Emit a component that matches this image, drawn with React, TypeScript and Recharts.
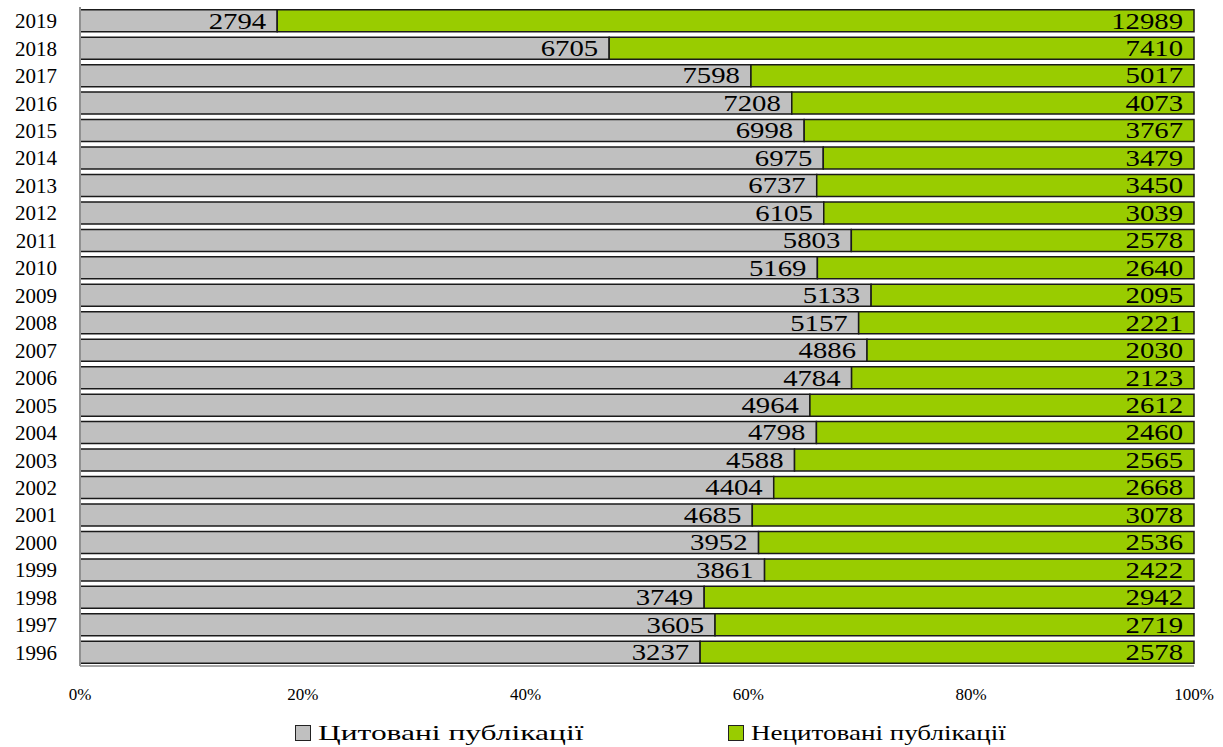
import { BarChart, Bar, XAxis, YAxis, LabelList } from 'recharts'

const years = ['2019', '2018', '2017', '2016', '2015', '2014', '2013', '2012', '2011', '2010', '2009', '2008',
  '2007', '2006', '2005', '2004', '2003', '2002', '2001', '2000', '1999', '1998', '1997', '1996']
const cited = [2794, 6705, 7598, 7208, 6998, 6975, 6737, 6105, 5803, 5169, 5133, 5157,
  4886, 4784, 4964, 4798, 4588, 4404, 4685, 3952, 3861, 3749, 3605, 3237]
const uncited = [12989, 7410, 5017, 4073, 3767, 3479, 3450, 3039, 2578, 2640, 2095, 2221,
  2030, 2123, 2612, 2460, 2565, 2668, 3078, 2536, 2422, 2942, 2719, 2578]
const xTicks = [0, 0.2, 0.4, 0.6, 0.8, 1]

const C_CITED = '#c0c0c0'
const C_UNCITED = '#99cc00'
const FONT = 'Liberation Serif, Tinos, DejaVu Serif, serif'

const data = years.map((year, i) => ({ year, cited: cited[i], uncited: uncited[i] }))

// labels in the source are drawn wider than the font, so stretch them a bit
const makeLabel = (values: number[]) => (props: any) => {
  const { x, y, width, height, index } = props
  const v = values[index]
  if (v == null) return null
  return (
    <text transform={`translate(${x + width - 11},${y + height / 2 + 7.8}) scale(1.25,1)`}
      textAnchor="end" fontSize={23} style={{ fontFamily: FONT }} fill="#000">{v}</text>
  )
}

const LegendItem = ({ color, text, stretch }: { color: string; text: string; stretch: number }) => (
  <span style={{ display: 'flex', alignItems: 'center' }}>
    <span style={{ display: 'inline-block', width: 14, height: 14, background: color, border: '1.5px solid #222', marginRight: 7 }} />
    <span style={{ display: 'inline-block', transform: `scaleX(${stretch})`, transformOrigin: 'left center', fontSize: 22, lineHeight: '22px', fontFamily: FONT, whiteSpace: 'nowrap' }}>{text}</span>
  </span>
)

export default function App() {
  return (
    <div style={{ position: 'absolute', left: 0, top: 0, width: 1223, height: 747, background: '#fff', fontFamily: FONT }}>
      <BarChart width={1223} height={747} data={data} layout="vertical" stackOffset="expand"
        barCategoryGap="10%" margin={{ top: 7, right: 29, bottom: 51, left: 0 }} style={{ fontFamily: FONT }}>
        <XAxis type="number" domain={[0, 1]} ticks={xTicks} tickFormatter={(v: number) => `${Math.round(v * 100)}%`}
          axisLine={{ stroke: '#a6a6a6', strokeWidth: 2 }} tickLine={false} tickMargin={16}
          tick={{ fontSize: 17, fill: '#000', style: { fontFamily: FONT } }} />
        <YAxis type="category" dataKey="year" width={80} axisLine={{ stroke: '#909090', strokeWidth: 2 }}
          tickLine={false} tickMargin={17} tick={{ fontSize: 21, fill: '#000', style: { fontFamily: FONT } }} interval={0} />
        <Bar dataKey="cited" name="Цитовані публікації" stackId="a" fill={C_CITED} stroke="#1a1a1a" strokeWidth={1.5} isAnimationActive={false}>
          <LabelList dataKey="cited" content={makeLabel(cited)} />
        </Bar>
        <Bar dataKey="uncited" name="Нецитовані публікації" stackId="a" fill={C_UNCITED} stroke="#1a1a1a" strokeWidth={1.5} isAnimationActive={false}>
          <LabelList dataKey="uncited" content={makeLabel(uncited)} />
        </Bar>
      </BarChart>
      <div style={{ position: 'absolute', top: 722, left: 295, display: 'flex' }}>
        <div style={{ width: 433 }}><LegendItem color={C_CITED} text="Цитовані публікації" stretch={1.43} /></div>
        <LegendItem color={C_UNCITED} text="Нецитовані публікації" stretch={1.23} />
      </div>
    </div>
  )
}
